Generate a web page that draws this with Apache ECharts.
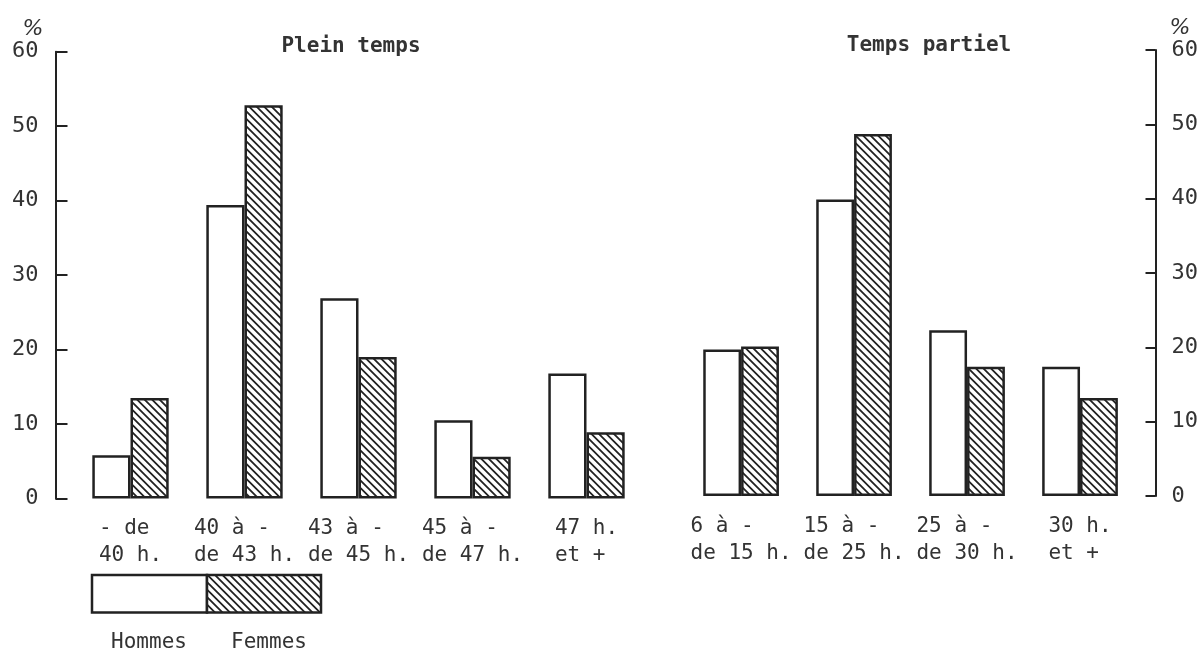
<!DOCTYPE html>
<html>
<head>
<meta charset="utf-8">
<script src="https://cdn.jsdelivr.net/npm/echarts@6/dist/echarts.min.js"></script>
<style>
  html, body { margin: 0; padding: 0; background: #fff; }
  #chart { width: 1201px; height: 649px; }
</style>
</head>
<body>
<div id="chart"></div>
<script>
// ---- Data ----
const categoriesFull = ['- de\n40 h.', '40 à -\nde 43 h.', '43 à -\nde 45 h.', '45 à -\nde 47 h.', '47 h.\net +'];
const hommesFull = [5.8, 39.4, 26.9, 10.5, 16.8];
const femmesFull = [13.5, 52.8, 19.0, 5.6, 8.9];

const categoriesPart = ['6 à -\nde 15 h.', '15 à -\nde 25 h.', '25 à -\nde 30 h.', '30 h.\net +'];
const hommesPart = [19.7, 39.9, 22.3, 17.4];
const femmesPart = [20.1, 48.7, 17.4, 13.2];

const yMin = 0, yMax = 60, yInterval = 10;
const seriesNames = ['Hommes', 'Femmes'];
const panelTitles = ['Plein temps', 'Temps partiel'];
const unitLabel = '%';

// ---- Style ----
const INK = '#222';
const TEXT = '#333';
const FONT = '"DejaVu Sans Mono", "Liberation Mono", monospace';

function makeHatch() {
  const T = 7.5;
  const N = 4; // tile holds N periods for sub-pixel accuracy
  const size = Math.round(T * N);
  const c = document.createElement('canvas');
  c.width = size; c.height = size;
  const ctx = c.getContext('2d');
  ctx.fillStyle = '#fff';
  ctx.fillRect(0, 0, size, size);
  ctx.strokeStyle = INK;
  ctx.lineWidth = 1.8;
  ctx.beginPath();
  const p = size / N;
  for (let k = -N; k <= N; k++) {
    ctx.moveTo(k * p - 2, -2);
    ctx.lineTo(k * p + size + 2, size + 2);
  }
  ctx.stroke();
  return c;
}
const hatch = { image: makeHatch(), repeat: 'repeat' };

function padLabel(v) {
  const lines = String(v).split('\n');
  const w = Math.max.apply(null, lines.map(l => l.length));
  return lines.map(l => l.padEnd(w, ' ')).join('\n');
}

const axisLabelX = {
  fontFamily: FONT, fontSize: 21, color: TEXT, lineHeight: 27,
  margin: 17, interval: 0, formatter: padLabel
};

const chart = echarts.init(document.getElementById('chart'), null, { renderer: 'canvas' });

function barSeries(name, data, axisIndex, fill) {
  return {
    type: 'bar', name: name, data: data,
    xAxisIndex: axisIndex, yAxisIndex: axisIndex,
    barGap: '0%', barCategoryGap: '33%',
    itemStyle: { color: fill, borderColor: INK, borderWidth: 2.5 },
    emphasis: { disabled: true },
    silent: true
  };
}

const option = {
  backgroundColor: '#fff',
  animation: false,
  grid: [
    { left: 73.5, right: 1201 - 643.5, top: 51.7, bottom: 649 - 498.5 },
    { left: 684.6, right: 1201 - 1137.9, top: 50, bottom: 649 - 496 }
  ],
  xAxis: [
    { type: 'category', gridIndex: 0, data: categoriesFull,
      axisLine: { show: false }, axisTick: { show: false }, axisLabel: axisLabelX },
    { type: 'category', gridIndex: 1, data: categoriesPart,
      axisLine: { show: false }, axisTick: { show: false }, axisLabel: axisLabelX }
  ],
  yAxis: [
    { type: 'value', gridIndex: 0, min: yMin, max: yMax, interval: yInterval,
      position: 'left', offset: 18,
      axisLine: { show: true, lineStyle: { color: INK, width: 2 } },
      axisTick: { show: true, inside: true, length: 12, lineStyle: { color: INK, width: 2 } },
      axisLabel: { fontFamily: FONT, fontSize: 22, color: TEXT, margin: 17 },
      splitLine: { show: false } },
    { type: 'value', gridIndex: 1, min: yMin, max: yMax, interval: yInterval,
      position: 'right', offset: 19,
      axisLine: { show: true, lineStyle: { color: INK, width: 2 } },
      axisTick: { show: true, inside: true, length: 10, lineStyle: { color: INK, width: 2 } },
      axisLabel: { fontFamily: FONT, fontSize: 22, color: TEXT, margin: 16 },
      splitLine: { show: false } }
  ],
  series: [
    barSeries(seriesNames[0], hommesFull, 0, '#fff'),
    barSeries(seriesNames[1], femmesFull, 0, hatch),
    barSeries(seriesNames[0], hommesPart, 1, '#fff'),
    barSeries(seriesNames[1], femmesPart, 1, hatch)
  ],
  graphic: [
    { type: 'text', silent: true,
      style: { x: 351, y: 47, text: panelTitles[0], fill: TEXT, font: 'bold 21px ' + FONT,
               textAlign: 'center', textVerticalAlign: 'middle' } },
    { type: 'text', silent: true,
      style: { x: 929, y: 46, text: panelTitles[1], fill: TEXT, font: 'bold 21px ' + FONT,
               textAlign: 'center', textVerticalAlign: 'middle' } },
    { type: 'text', silent: true,
      style: { x: 33, y: 29, text: unitLabel, fill: TEXT, font: 'italic 22px "DejaVu Sans", sans-serif',
               textAlign: 'center', textVerticalAlign: 'middle' } },
    { type: 'text', silent: true,
      style: { x: 1180, y: 28, text: unitLabel, fill: TEXT, font: 'italic 22px "DejaVu Sans", sans-serif',
               textAlign: 'center', textVerticalAlign: 'middle' } },
    { type: 'rect', silent: true,
      shape: { x: 92, y: 575, width: 115, height: 37.5 },
      style: { fill: '#fff', stroke: INK, lineWidth: 2.5 } },
    { type: 'rect', silent: true,
      shape: { x: 207, y: 575, width: 114, height: 37.5 },
      style: { fill: hatch, stroke: INK, lineWidth: 2.5 } },
    { type: 'text', silent: true,
      style: { x: 149, y: 632, text: seriesNames[0], fill: TEXT, font: '21px ' + FONT,
               textAlign: 'center', textVerticalAlign: 'top' } },
    { type: 'text', silent: true,
      style: { x: 269, y: 632, text: seriesNames[1], fill: TEXT, font: '21px ' + FONT,
               textAlign: 'center', textVerticalAlign: 'top' } }
  ]
};

chart.setOption(option);
</script>
</body>
</html>
